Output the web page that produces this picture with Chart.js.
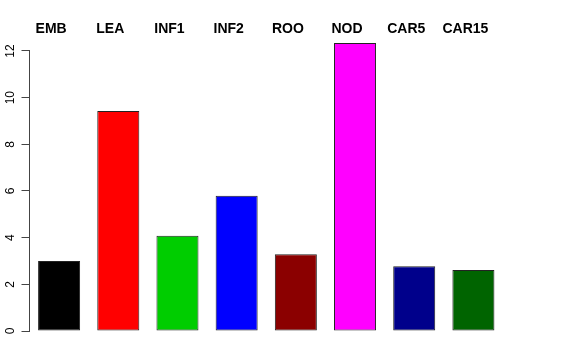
<!DOCTYPE html>
<html>
<head>
<meta charset="utf-8">
<script src="https://cdn.jsdelivr.net/npm/chart.js@4"></script>
<style>
  html, body { margin: 0; padding: 0; background: #fff; }
  #wrap { width: 576px; height: 360px; }
</style>
</head>
<body>
<div id="wrap"><canvas id="chart" width="576" height="360"></canvas></div>
<script>
const categories = ['EMB', 'LEA', 'INF1', 'INF2', 'ROO', 'NOD', 'CAR5', 'CAR15'];
const values = [3.0, 9.43, 4.08, 5.8, 3.29, 12.34, 2.78, 2.61];
const barColors = ['#000000', '#FF0000', '#00CD00', '#0000FF', '#8B0000', '#FF00FF', '#00008B', '#006400'];
const yTicks = [0, 2, 4, 6, 8, 10, 12];

// R-style axis line that only spans the tick range
const axisLine = {
    id: 'axisLine',
    afterDraw(chart) {
        const y = chart.scales.y
        const ctx = chart.ctx
        const x = Math.round(chart.chartArea.left) - 0.5
        ctx.save()
        ctx.strokeStyle = '#444'
        ctx.lineWidth = 1
        ctx.beginPath()
        ctx.moveTo(x, y.getPixelForValue(yTicks[0]))
        ctx.lineTo(x, y.getPixelForValue(yTicks[yTicks.length - 1]))
        ctx.stroke()
        ctx.restore()
    }
}

let ctx = document.getElementById('chart');
new Chart(ctx, {
    type: 'bar',
    data: {
        labels: categories,
        datasets: [{
            data: values,
            backgroundColor: barColors,
            borderColor: '#222',
            borderWidth: 1,
            borderSkipped: false,
            barPercentage: 0.71,
            categoryPercentage: 1,
        }]
    },
    plugins: [axisLine],
    options: {
        responsive: false,
        animation: false,
        layout: {
            padding: {left: 0, top: 0, right: 73, bottom: 17}
        },
        plugins: {
            legend: {display: false},
            tooltip: {enabled: false},
        },
        scales: {
            x: {
                position: 'top',
                grid: {display: false, drawTicks: false},
                border: {display: false},
                ticks: {
                    autoSkip: false,
                    maxRotation: 0,
                    padding: -1.5,
                    labelOffset: -8,
                    color: '#000',
                    font: {family: 'Liberation Sans', size: 14, weight: 'bold'}
                },
                afterFit(scale) {
                    scale.height = 36.5
                }
            },
            y: {
                min: -0.514,
                max: 12.62,
                grid: {drawOnChartArea: false, drawTicks: true, tickLength: 8, color: '#444'},
                border: {display: false},
                ticks: {
                    minRotation: 90,
                    maxRotation: 90,
                    crossAlign: 'center',
                    padding: 4,
                    color: '#000',
                    font: {family: 'Liberation Sans', size: 12}
                },
                afterBuildTicks(scale) {
                    scale.ticks = yTicks.map(v => ({value: v}))
                },
                afterFit(scale) {
                    scale.width = 29.5
                }
            }
        }
    }
})
</script>
</body>
</html>
